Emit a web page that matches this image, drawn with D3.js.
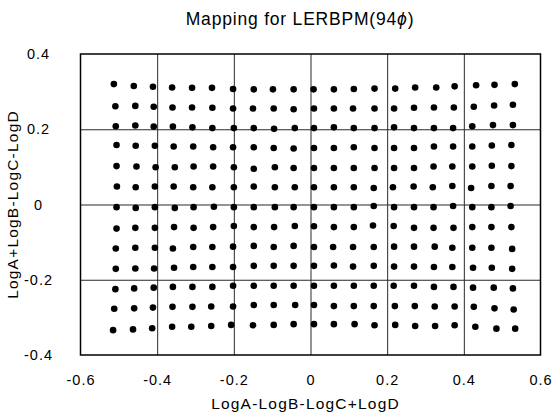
<!DOCTYPE html>
<html>
<head>
<meta charset="utf-8">
<script src="https://cdn.jsdelivr.net/npm/d3@7"></script>
<style>
  html, body { margin: 0; padding: 0; background: #fff; }
  svg { display: block; font-family: "Liberation Sans", Arial, Helvetica, sans-serif; }
</style>
</head>
<body>
<svg id="chart" width="554" height="413"></svg>
<script>
// ---- Data ----
const chartTitle = "Mapping for LERBPM(94";
const titlePhi = "\u03D5";
const xTitle = "LogA-LogB-LogC+LogD";
const yTitle = "LogA+LogB-LogC-LogD";
const xTicks = [-0.6, -0.4, -0.2, 0, 0.2, 0.4, 0.6];
const xTickLabels = ["-0.6", "-0.4", "-0.2", "0", "0.2", "0.4", "0.6"];
const yTicks = [-0.4, -0.2, 0, 0.2, 0.4];
const yTickLabels = ["-0.4", "-0.2", "0", "0.2", "0.4"];

// mapped points, one row of the grid per pair of arrays
const r01x = [-0.513, -0.461, -0.411, -0.361, -0.309, -0.257, -0.202, -0.148, -0.098, -0.044, 0.008, 0.061, 0.113, 0.167, 0.221, 0.273, 0.328, 0.376, 0.432, 0.480, 0.533];
const r01y = [0.320, 0.315, 0.313, 0.311, 0.310, 0.310, 0.307, 0.306, 0.306, 0.306, 0.306, 0.306, 0.307, 0.308, 0.308, 0.311, 0.311, 0.314, 0.317, 0.318, 0.320];
const r02x = [-0.509, -0.457, -0.409, -0.360, -0.309, -0.256, -0.202, -0.150, -0.096, -0.044, 0.009, 0.061, 0.111, 0.167, 0.218, 0.270, 0.322, 0.374, 0.426, 0.479, 0.528];
const r02y = [0.261, 0.262, 0.260, 0.258, 0.258, 0.257, 0.255, 0.255, 0.255, 0.253, 0.255, 0.255, 0.255, 0.255, 0.255, 0.257, 0.258, 0.258, 0.260, 0.263, 0.265];
const r03x = [-0.508, -0.457, -0.409, -0.359, -0.308, -0.256, -0.200, -0.148, -0.095, -0.041, 0.009, 0.061, 0.113, 0.167, 0.218, 0.270, 0.322, 0.372, 0.422, 0.476, 0.528];
const r03y = [0.208, 0.210, 0.207, 0.207, 0.205, 0.203, 0.203, 0.203, 0.201, 0.203, 0.203, 0.205, 0.203, 0.203, 0.205, 0.203, 0.203, 0.203, 0.208, 0.211, 0.211];
const r04x = [-0.506, -0.456, -0.406, -0.357, -0.306, -0.254, -0.202, -0.148, -0.096, -0.044, 0.009, 0.061, 0.113, 0.167, 0.218, 0.270, 0.322, 0.372, 0.422, 0.473, 0.524];
const r04y = [0.158, 0.156, 0.156, 0.154, 0.154, 0.152, 0.152, 0.152, 0.150, 0.149, 0.150, 0.150, 0.152, 0.150, 0.150, 0.150, 0.154, 0.154, 0.154, 0.157, 0.158];
const r05x = [-0.506, -0.454, -0.404, -0.354, -0.305, -0.254, -0.200, -0.148, -0.093, -0.044, 0.009, 0.061, 0.113, 0.167, 0.218, 0.270, 0.321, 0.370, 0.422, 0.473, 0.524];
const r05y = [0.102, 0.101, 0.099, 0.099, 0.101, 0.101, 0.099, 0.095, 0.099, 0.097, 0.097, 0.097, 0.097, 0.097, 0.097, 0.097, 0.101, 0.101, 0.101, 0.103, 0.102];
const r06x = [-0.505, -0.456, -0.406, -0.357, -0.306, -0.256, -0.200, -0.148, -0.093, -0.041, 0.009, 0.061, 0.113, 0.165, 0.215, 0.269, 0.319, 0.370, 0.419, 0.472, 0.522];
const r06y = [0.048, 0.046, 0.048, 0.048, 0.046, 0.046, 0.046, 0.048, 0.046, 0.046, 0.046, 0.046, 0.046, 0.044, 0.046, 0.048, 0.046, 0.049, 0.044, 0.049, 0.049];
const r07x = [-0.506, -0.456, -0.406, -0.354, -0.305, -0.252, -0.200, -0.148, -0.093, -0.044, 0.009, 0.061, 0.113, 0.165, 0.218, 0.270, 0.321, 0.372, 0.422, 0.472, 0.522];
const r07y = [-0.007, -0.009, -0.007, -0.009, -0.007, -0.006, -0.007, -0.007, -0.007, -0.007, -0.007, -0.007, -0.007, -0.004, -0.007, -0.007, -0.007, -0.004, -0.007, -0.007, -0.004];
const r08x = [-0.506, -0.457, -0.406, -0.356, -0.305, -0.254, -0.200, -0.148, -0.095, -0.041, 0.009, 0.061, 0.113, 0.163, 0.217, 0.270, 0.321, 0.373, 0.422, 0.472, 0.524];
const r08y = [-0.064, -0.062, -0.062, -0.060, -0.062, -0.060, -0.057, -0.060, -0.060, -0.057, -0.058, -0.060, -0.060, -0.056, -0.057, -0.062, -0.062, -0.062, -0.060, -0.060, -0.060];
const r09x = [-0.508, -0.457, -0.406, -0.359, -0.306, -0.256, -0.202, -0.148, -0.096, -0.044, 0.009, 0.059, 0.111, 0.165, 0.218, 0.270, 0.324, 0.370, 0.422, 0.472, 0.526];
const r09y = [-0.117, -0.115, -0.115, -0.117, -0.113, -0.113, -0.112, -0.110, -0.113, -0.110, -0.113, -0.113, -0.113, -0.113, -0.112, -0.112, -0.112, -0.115, -0.115, -0.115, -0.118];
const r10x = [-0.508, -0.457, -0.408, -0.356, -0.306, -0.256, -0.202, -0.148, -0.096, -0.044, 0.009, 0.061, 0.111, 0.165, 0.218, 0.270, 0.322, 0.370, 0.424, 0.473, 0.526];
const r10y = [-0.171, -0.170, -0.170, -0.168, -0.166, -0.166, -0.166, -0.163, -0.163, -0.163, -0.163, -0.162, -0.165, -0.163, -0.165, -0.165, -0.166, -0.166, -0.168, -0.168, -0.171];
const r11x = [-0.509, -0.460, -0.409, -0.359, -0.308, -0.256, -0.202, -0.148, -0.096, -0.044, 0.009, 0.061, 0.113, 0.165, 0.217, 0.270, 0.322, 0.373, 0.424, 0.478, 0.528];
const r11y = [-0.225, -0.223, -0.221, -0.219, -0.219, -0.219, -0.216, -0.216, -0.216, -0.216, -0.216, -0.216, -0.216, -0.216, -0.216, -0.216, -0.219, -0.219, -0.221, -0.221, -0.223];
const r12x = [-0.512, -0.460, -0.411, -0.360, -0.308, -0.259, -0.202, -0.148, -0.096, -0.040, 0.009, 0.061, 0.113, 0.165, 0.220, 0.272, 0.324, 0.376, 0.426, 0.480, 0.530];
const r12y = [-0.277, -0.276, -0.274, -0.272, -0.272, -0.271, -0.271, -0.267, -0.267, -0.267, -0.267, -0.270, -0.270, -0.270, -0.270, -0.270, -0.271, -0.271, -0.272, -0.276, -0.279];
const r13x = [-0.515, -0.463, -0.413, -0.361, -0.311, -0.259, -0.207, -0.150, -0.096, -0.044, 0.009, 0.061, 0.115, 0.167, 0.221, 0.273, 0.325, 0.376, 0.430, 0.485, 0.534];
const r13y = [-0.334, -0.332, -0.329, -0.325, -0.325, -0.323, -0.320, -0.321, -0.320, -0.318, -0.318, -0.318, -0.318, -0.321, -0.320, -0.323, -0.323, -0.321, -0.325, -0.330, -0.330];

const rowsX = [r01x, r02x, r03x, r04x, r05x, r06x, r07x, r08x, r09x, r10x, r11x, r12x, r13x];
const rowsY = [r01y, r02y, r03y, r04y, r05y, r06y, r07y, r08y, r09y, r10y, r11y, r12y, r13y];
const points = [];
rowsX.forEach((xs, i) => xs.forEach((x, j) => points.push({ x: x, y: rowsY[i][j] })));

// ---- Layout ----
const W = 554, H = 413;
const margin = { top: 54, right: 13.5, bottom: 58, left: 80.5 };
const iw = W - margin.left - margin.right;
const ih = H - margin.top - margin.bottom;

const svg = d3.select("#chart");
const g = svg.append("g").attr("transform", `translate(${margin.left},${margin.top})`);

const x = d3.scaleLinear().domain([-0.6, 0.6]).range([0, iw]);
const y = d3.scaleLinear().domain([-0.4, 0.4]).range([ih, 0]);

// gridlines
g.append("g")
  .attr("class", "xgrid")
  .attr("transform", `translate(0,${ih})`)
  .call(d3.axisBottom(x).tickValues(xTicks.slice(1, -1)).tickSize(-ih).tickFormat(""))
  .call(s => s.select(".domain").remove())
  .call(s => s.selectAll("line").attr("stroke", "#2a2a2a").attr("stroke-width", 1));

g.append("g")
  .attr("class", "ygrid")
  .call(d3.axisLeft(y).tickValues(yTicks.slice(1, -1)).tickSize(-iw).tickFormat(""))
  .call(s => s.select(".domain").remove())
  .call(s => s.selectAll("line").attr("stroke", "#2a2a2a").attr("stroke-width", 1));

// frame
g.append("rect")
  .attr("x", 0).attr("y", 0).attr("width", iw).attr("height", ih)
  .attr("fill", "none").attr("stroke", "#000").attr("stroke-width", 1.5);

// tick labels
const xAxis = g.append("g")
  .attr("transform", `translate(0,${ih})`)
  .call(d3.axisBottom(x).tickValues(xTicks).tickSize(0).tickPadding(20)
    .tickFormat((d, i) => xTickLabels[i]));
xAxis.select(".domain").remove();
xAxis.selectAll("text")
  .attr("font-family", "'Liberation Sans', Arial, sans-serif")
  .attr("font-size", 14.5).attr("letter-spacing", 1).attr("fill", "#000");

const yAxis = g.append("g")
  .call(d3.axisLeft(y).tickValues(yTicks).tickSize(0).tickPadding(42)
    .tickFormat((d, i) => yTickLabels[i]));
yAxis.select(".domain").remove();
yAxis.selectAll("text")
  .attr("text-anchor", "middle")
  .attr("font-family", "'Liberation Sans', Arial, sans-serif")
  .attr("font-size", 14.5).attr("letter-spacing", 1).attr("fill", "#000");

// points
g.append("g")
  .selectAll("circle")
  .data(points)
  .join("circle")
  .attr("cx", d => x(d.x))
  .attr("cy", d => y(d.y))
  .attr("r", 3.3)
  .attr("fill", "#000");

// title
const t = svg.append("text")
  .attr("x", 300).attr("y", 25)
  .attr("text-anchor", "middle")
  .attr("font-size", 17.5).attr("letter-spacing", 0.8).attr("fill", "#000")
  .text(chartTitle);
t.append("tspan").attr("font-style", "italic").text(titlePhi);
t.append("tspan").text(")");

// axis titles
svg.append("text")
  .attr("x", margin.left + x(0) - 5).attr("y", 409)
  .attr("text-anchor", "middle")
  .attr("font-size", 15.5).attr("letter-spacing", 1.2).attr("fill", "#000")
  .text(xTitle);

svg.append("text")
  .attr("transform", `translate(18,${margin.top + y(0)}) rotate(-90)`)
  .attr("text-anchor", "middle")
  .attr("font-size", 15.5).attr("letter-spacing", 1.2).attr("fill", "#000")
  .text(yTitle);
</script>
</body>
</html>
